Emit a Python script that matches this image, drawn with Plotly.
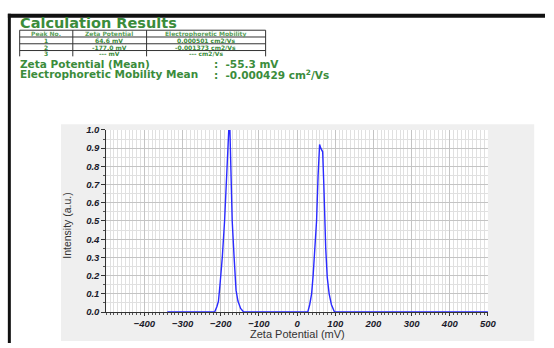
import plotly.graph_objects as go

# ---------------- data ----------------
zeta_mv = [-340, -300, -250, -216, -210, -206, -202, -196, -190, -184, -179, -176,
           -173, -170, -165, -160, -155, -148, -140, -100, -50, 0, 20, 28, 33, 38,
           42, 47, 51, 55, 59, 62, 67, 70, 72, 75, 79, 84, 90, 98, 150, 200, 300,
           400, 500]
intensity = [0, 0, 0, 0, 0.03, 0.06, 0.15, 0.3, 0.5, 0.75, 1.0, 1.0,
             0.8, 0.5, 0.3, 0.12, 0.06, 0.02, 0, 0, 0, 0, 0, 0, 0.04, 0.1,
             0.2, 0.35, 0.5, 0.75, 0.92, 0.9, 0.88, 0.7, 0.5, 0.35, 0.19, 0.1, 0.04, 0, 0, 0, 0,
             0, 0]

x_tick_vals = [-400, -300, -200, -100, 0, 100, 200, 300, 400, 500]
y_tick_vals = [0.0, 0.1, 0.2, 0.3, 0.4, 0.5, 0.6, 0.7, 0.8, 0.9, 1.0]
y_tick_text = ["0.0", "0.1", "0.2", "0.3", "0.4", "0.5", "0.6", "0.7", "0.8", "0.9", "1.0"]

table_header = ["Peak No.", "Zeta Potential", "Electrophoretic Mobility"]
peak_no = ["1", "2", "3"]
peak_zeta = ["64.6 mV", "-177.0 mV", "--- mV"]
peak_mobility = ["0.000501 cm2/Vs", "-0.001373 cm2/Vs", "--- cm2/Vs"]
zeta_mean = "-55.3 mV"
mobility_mean = "-0.000429 cm<sup>2</sup>/Vs"

# ---------------- layout helpers ----------------
W, H = 554, 348
def px(x):
    return x / W
def py(y):
    return 1 - y / H

GREEN = "#3b8c3b"
HFONT = "DejaVu Sans"
fig = go.Figure()
fig.add_trace(go.Scatter(x=zeta_mv, y=intensity, mode="lines",
                         line=dict(color="#2a2aff", width=1.4), showlegend=False,
                         cliponaxis=False))

shapes = []
# gray panel + white plot area
shapes.append(dict(type="rect", xref="paper", yref="paper", x0=px(62), x1=px(543),
                   y0=py(346), y1=py(122), fillcolor="#efefef", line=dict(width=0), layer="below"))
shapes.append(dict(type="rect", xref="paper", yref="paper", x0=px(108), x1=px(496),
                   y0=py(316), y1=py(128), fillcolor="#ffffff", line=dict(width=0), layer="below"))
# black frame
shapes.append(dict(type="line", xref="paper", yref="paper", x0=px(8), x1=1, y0=py(10), y1=py(10),
                   line=dict(color="#111111", width=4)))
shapes.append(dict(type="line", xref="paper", yref="paper", x0=px(9.5), x1=px(9.5), y0=py(8), y1=0,
                   line=dict(color="#111111", width=3)))
# table lines
for yy in [25, 32, 39, 46]:
    shapes.append(dict(type="line", xref="paper", yref="paper", x0=px(20), x1=px(270),
                       y0=py(yy), y1=py(yy), line=dict(color="#333333", width=1)))
for xx in [20, 74, 149, 270]:
    shapes.append(dict(type="line", xref="paper", yref="paper", x0=px(xx), x1=px(xx),
                       y0=py(25), y1=py(52), line=dict(color="#333333", width=1)))

ann = []
ann.append(dict(text="<b>Calculation Results</b>", x=px(18), y=py(17.5), xref="paper", yref="paper",
                xanchor="left", yanchor="middle", showarrow=False,
                font=dict(family=HFONT, size=14.5, color=GREEN)))
col_cx = [47, 111, 209]
for txt, cx in zip(table_header, col_cx):
    ann.append(dict(text="<b>" + txt + "</b>", x=px(cx), y=py(28.5), xref="paper", yref="paper",
                    xanchor="center", yanchor="middle", showarrow=False,
                    font=dict(family=HFONT, size=6, color="#5aa05a")))
row_y = [35.5, 42.5, 49]
for i in range(3):
    for txt, cx in zip([peak_no[i], peak_zeta[i], peak_mobility[i]], col_cx):
        ann.append(dict(text="<b>" + txt + "</b>", x=px(cx), y=py(row_y[i]), xref="paper", yref="paper",
                        xanchor="center", yanchor="middle", showarrow=False,
                        font=dict(family=HFONT, size=6, color=GREEN)))
ann.append(dict(text="<b>Zeta Potential (Mean)</b>", x=px(18), y=py(59.5), xref="paper", yref="paper",
                xanchor="left", yanchor="middle", showarrow=False,
                font=dict(family=HFONT, size=10.5, color=GREEN)))
ann.append(dict(text="<b>Electrophoretic Mobility Mean</b>", x=px(18), y=py(70.5), xref="paper", yref="paper",
                xanchor="left", yanchor="middle", showarrow=False,
                font=dict(family=HFONT, size=10.5, color=GREEN)))
ann.append(dict(text="<b>:  " + zeta_mean + "</b>", x=px(216), y=py(59.5), xref="paper", yref="paper",
                xanchor="left", yanchor="middle", showarrow=False,
                font=dict(family=HFONT, size=10.5, color=GREEN)))
ann.append(dict(text="<b>:  " + mobility_mean + "</b>", x=px(216), y=py(70.5), xref="paper", yref="paper",
                xanchor="left", yanchor="middle", showarrow=False,
                font=dict(family=HFONT, size=10.5, color=GREEN)))
# axis titles
ann.append(dict(text="Intensity (a.u.)", x=px(68), y=py(226), xref="paper", yref="paper",
                xanchor="center", yanchor="middle", showarrow=False, textangle=-90,
                font=dict(family="Liberation Sans", size=10.5, color="#333333")))
ann.append(dict(text="Zeta Potential (mV)", x=px(302), y=py(339), xref="paper", yref="paper",
                xanchor="center", yanchor="middle", showarrow=False,
                font=dict(family="Liberation Sans", size=11, color="#333333")))

tickfont = dict(family="Liberation Sans", size=9.5, color="#1a1a2a", weight="bold", style="italic")

fig.update_layout(
    width=W, height=H, margin=dict(l=0, r=0, t=0, b=0),
    paper_bgcolor="white", plot_bgcolor="rgba(0,0,0,0)",
    shapes=shapes, annotations=ann, showlegend=False,
    xaxis=dict(domain=[px(108), px(496)], range=[-500, 500], tickvals=x_tick_vals,
               tickfont=tickfont, showgrid=True, gridcolor="#c4c4c4", gridwidth=1,
               zeroline=False, showline=True, linecolor="#333333", linewidth=1,
               ticks="outside", ticklen=3, tickcolor="#333333",
               minor=dict(dtick=10, showgrid=True, gridcolor="#e0e0e0", ticks="outside",
                          ticklen=2, tickcolor="#555555")),
    yaxis=dict(domain=[py(316), py(128)], range=[0, 1.0], tickvals=y_tick_vals, ticktext=y_tick_text,
               tickfont=tickfont, showgrid=True, gridcolor="#c4c4c4", gridwidth=1,
               zeroline=False, showline=True, linecolor="#333333", linewidth=1,
               ticks="outside", ticklen=4, tickcolor="#333333",
               minor=dict(dtick=0.05, showgrid=True, gridcolor="#e0e0e0", ticks="outside",
                          ticklen=2, tickcolor="#555555")),
)

fig.write_html("out.html", config={"displayModeBar": False},
               post_script="document.body.style.margin='0';document.body.style.overflow='hidden';")
